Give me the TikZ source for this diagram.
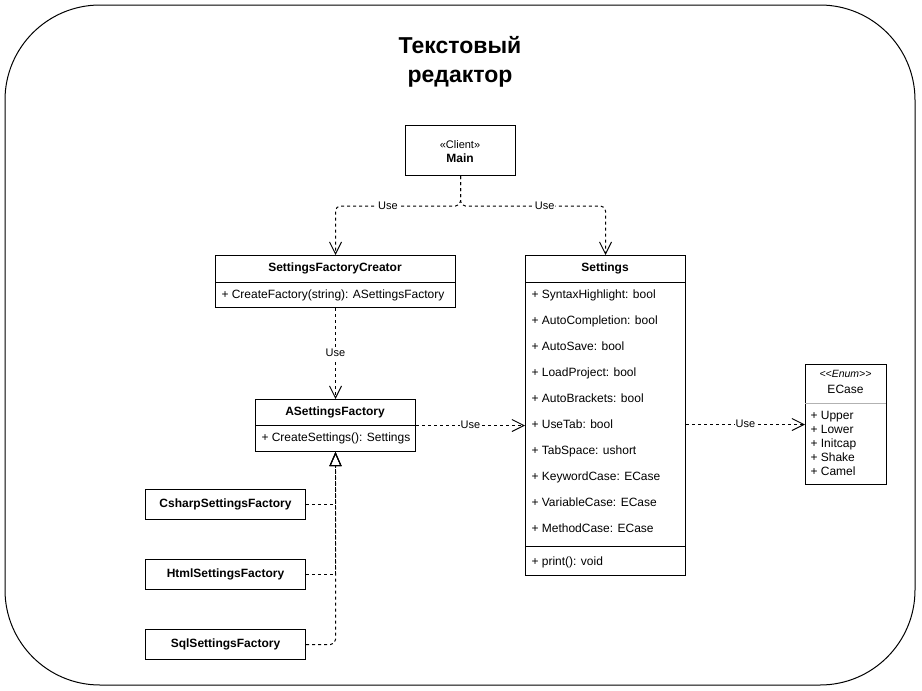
\documentclass[tikz,border=0pt]{standalone}
\usepackage{fontspec}
\setmainfont{Liberation Sans}
\usetikzlibrary{arrows.meta}

\begin{document}
\begin{tikzpicture}[x=1pt,y=-1pt,line width=1pt,
		classbox/.style={draw,anchor=north west,inner sep=0pt},
		cname/.style={font=\fontsize{12}{14}\selectfont\bfseries},
		member/.style={anchor=west,inner sep=0pt,text height=8.6pt,text depth=2.5pt,font=\fontsize{12}{14}\selectfont},
		usearrow/.style={dash pattern=on 3pt off 3pt,-{Straight Barb[length=12pt,width=12pt]}},
		uselabel/.style={fill=white,inner sep=1pt,text height=8pt,text depth=2pt,font=\fontsize{11}{13}\selectfont},
		inherit/.style={dash pattern=on 3pt off 3pt,-{Triangle[open,length=14pt,width=12pt]}}]
		
		% Frame + Title
		\useasboundingbox (0,0) rectangle (922,691);
		\draw[rounded corners=95pt] (5,5) rectangle (915,685);
		\node[font=\fontsize{23}{29}\selectfont\bfseries,align=center] (title) at (460,61.5) {Текстовый\\редактор};
		
		% Main
		\node[classbox,minimum width=110pt,minimum height=50pt] (Main) at (405,125) {};
		\node[font=\fontsize{11}{13}\selectfont] (mainst) at (460,145) {«Client»};
		\node[cname] (mainname) at (460,158) {Main};
		
		% SettingsFactoryCreator
		\node[classbox,minimum width=240pt,minimum height=52pt] (SFC) at (215,255) {};
		\draw (215,282) -- (455,282);
		\node[cname] (SFCname) at (335,268.5) {SettingsFactoryCreator};
		\node[member] (SFCm) at (221,295) {+ CreateFactory(string): ASettingsFactory};
		
		% Settings
		\node[classbox,minimum width=160pt,minimum height=320pt] (Settings) at (525,255) {};
		\draw (525,282) -- (685,282);
		\draw (525,546) -- (685,546);
		\node[cname] (Setname) at (605,268.5) {Settings};
		\foreach \attr [count=\i from 0] in {SyntaxHighlight: bool,AutoCompletion: bool,AutoSave: bool,LoadProject: bool,AutoBrackets: bool,UseTab: bool,TabSpace: ushort,KeywordCase: ECase,VariableCase: ECase,MethodCase: ECase}
			\node[member] (attr\i) at (531,295+26*\i) {+ \attr};
		\node[member] (print) at (531,562) {+ print(): void};
		
		% ECase
		\node[classbox,minimum width=81pt,minimum height=120pt] (ECase) at (805,364) {};
		\draw[gray!60] (805,403) -- (886,403);
		\node[font=\fontsize{10.5}{12}\selectfont\itshape,text height=7.5pt,text depth=2pt] (enumst) at (845.5,375) {<{}<Enum>{}>};
		\node[font=\fontsize{12}{14}\selectfont] (ecname) at (845.5,389) {ECase};
		\foreach \val [count=\i from 0] in {Upper,Lower,Initcap,Shake,Camel}
			\node[member] (val\i) at (810,416+14*\i) {+ \val};
		
		% ASettingsFactory
		\node[classbox,minimum width=160pt,minimum height=52pt] (ASF) at (255,399) {};
		\draw (255,425) -- (415,425);
		\node[cname] (ASFname) at (335,412.5) {ASettingsFactory};
		\node[member] (ASFm) at (261,438.5) {+ CreateSettings(): Settings};
		
		% Concrete factories
		\foreach \name/\y in {Csharp/489,Html/559,Sql/629}
			\node[classbox,cname,minimum width=160pt,minimum height=30pt] (\name) at (145,\y) {\name SettingsFactory};
		
		% Dependencies
		\draw[usearrow,rounded corners=5pt] (Main.south) -- ++(0,30) -| (SFC.north) node[uselabel,pos=.29]{Use};
		\draw[usearrow,rounded corners=5pt] (Main.south) -- ++(0,30) -| (Settings.north) node[uselabel,pos=.29]{Use};
		\draw[usearrow] (SFC.south) -- (ASF.north) node[uselabel,midway]{Use};
		\draw[usearrow] (ASF.east) -- (Settings.west |- ASF.east) node[uselabel,midway]{Use};
		\draw[usearrow] (ECase.west -| Settings.east) -- (ECase.west) node[uselabel,midway]{Use};
		
		% Inheritance
		\draw[inherit] (Csharp.east) -| (ASF.south);
		\draw[inherit] (Html.east) -| (ASF.south);
		\draw[inherit,rounded corners=5pt] (Sql.east) -| (ASF.south);
		
	\end{tikzpicture}
\end{document}
